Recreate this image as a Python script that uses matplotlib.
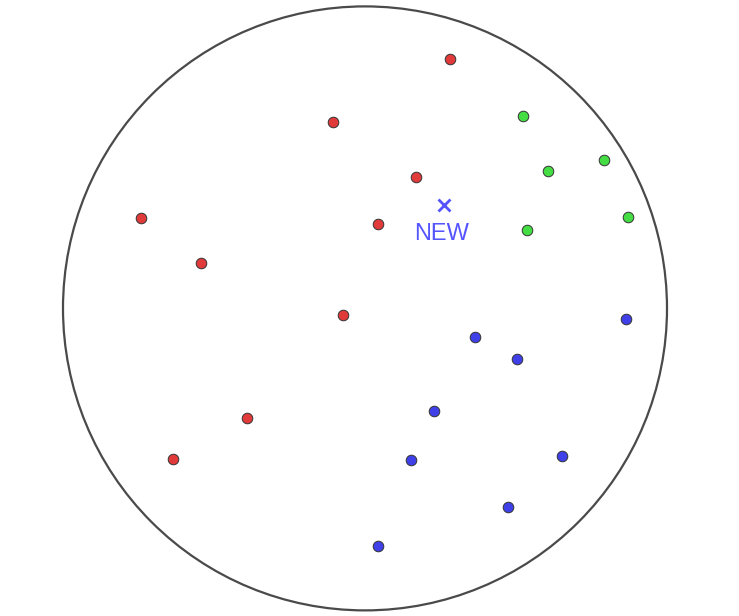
import matplotlib.pyplot as plt
from matplotlib.patches import Circle

# points in units of the circle radius, circle centred at the origin
red_x = [0.281, -0.106, 0.169, -0.742, 0.043, -0.543, -0.073, -0.391, -0.636]
red_y = [0.825, 0.616, 0.434, 0.298, 0.281, 0.149, -0.023, -0.364, -0.500]
green_x = [0.523, 0.606, 0.791, 0.871, 0.536]
green_y = [0.636, 0.454, 0.490, 0.301, 0.258]
blue_x = [0.864, 0.364, 0.503, 0.228, 0.152, 0.652, 0.474, 0.043]
blue_y = [-0.036, -0.096, -0.169, -0.341, -0.503, -0.490, -0.659, -0.788]
new_x, new_y = 0.262, 0.341
new_label = "NEW"

fig = plt.figure(figsize=(7.39, 6.16), dpi=100)
ax = fig.add_axes([0, 0, 1, 1])
ax.set_xlim(-1.2086, 1.2384)
ax.set_ylim(-1.0186, 1.0212)
ax.axis('off')

ax.add_patch(Circle((0, 0), 1.0, fill=False, edgecolor='#4a4a4a', linewidth=1.6))

ax.scatter(red_x, red_y, s=58, c='#e03a3a', edgecolors='#333333', linewidths=0.7, zorder=3)
ax.scatter(green_x, green_y, s=58, c='#44dd44', edgecolors='#333333', linewidths=0.7, zorder=3)
ax.scatter(blue_x, blue_y, s=58, c='#4040e8', edgecolors='#333333', linewidths=0.7, zorder=3)

ax.plot(new_x, new_y, marker='x', color='#5555ff', markersize=9, markeredgewidth=2.0, zorder=4)
ax.text(new_x - 0.007, new_y - 0.095, new_label, color='#5555ff', fontsize=17,
        family=['Liberation Sans', 'DejaVu Sans'], ha='center', va='center')

fig.savefig('out.png', dpi=100)
